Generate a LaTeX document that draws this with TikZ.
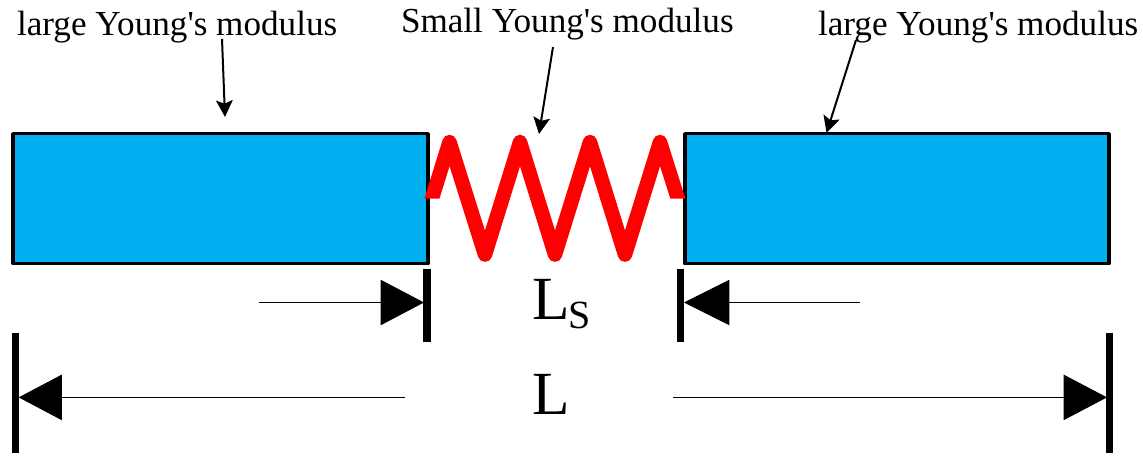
\documentclass[tikz,border=0pt]{standalone}
\usepackage{fontspec}
\setmainfont{Liberation Serif}
\newfontfamily\labelfont{Liberation Serif}
\usetikzlibrary{arrows.meta}
\definecolor{blockblue}{RGB}{0,176,240}
\newcommand{\bigL}{\fontsize{46pt}{46pt}\selectfont}
\newcommand{\smallS}{\fontsize{30pt}{30pt}\selectfont}
\tikzset{
  x=0.75pt,y=-0.75pt,
  label text/.style={font=\labelfont\fontsize{26.35pt}{26.35pt}\selectfont,anchor=base west,inner sep=0pt,outer sep=0pt},
  dim text/.style={font=\bigL,anchor=base west,inner sep=0pt,outer sep=0pt},
  block/.style={draw=black,fill=blockblue,line width=2.7pt,line join=round,rectangle,inner sep=0pt,outer sep=0pt,anchor=north west},
  pointer/.style={line width=1.5pt,-{Stealth[length=12.5pt,width=12.5pt,inset=2.5pt]}},
  dim line/.style={line width=0.75pt,-{Triangle[length=#1,width=34pt]}},
  dim line/.default=32.5pt,
  limit/.style={line width=5.6pt},
  spring/.style={draw=red,line width=10.8pt,line join=round}
}
\begin{document}
\begin{tikzpicture}
\useasboundingbox (0,0) rectangle (1143,470);
% blocks
\node[block,minimum width=311.25pt,minimum height=97.3pt] (leftblock) at (13,133.7) {};
\node[block,minimum width=318.2pt,minimum height=97.3pt] (rightblock) at (684.7,133.7) {};
% spring
\begin{scope}
\clip (420,120) -- (690,120) -- (690,198.7) -- (660,198.7) -- (660,270) -- (450,270) -- (450,198.7) -- (420,198.7) -- cycle;
\draw[spring] (420,237) -- (449.5,142) -- (485,254.7) -- (520,142) -- (555,254.7) -- (590,142) -- (625,254.7) -- (660,142) -- (690,237);
\end{scope}
% labels
\node[label text] (lab1) at (17,36) {large Young's modulus};
\node[label text] (lab2) at (401,33) {Small Young's modulus};
\node[label text] (lab3) at (818,36) {large Young's modulus};
\coordinate (p1s) at (222,39);
\coordinate (p1e) at (225,117);
\coordinate (p2s) at (553,47);
\coordinate (p2e) at (539,134);
\coordinate (p3s) at (856,40);
\coordinate (p3e) at (826.5,133);
\draw[pointer] (p1s) -- (p1e);
\draw[pointer] (p2s) -- (p2e);
\draw[pointer] (p3s) -- (p3e);
% Ls row
\coordinate (t1a) at (427,269);
\coordinate (t1b) at (427,342);
\coordinate (t2a) at (680.5,269);
\coordinate (t2b) at (680.5,342);
\draw[limit] (t1a) -- (t1b);
\draw[limit] (t2a) -- (t2b);
\coordinate (a1s) at (259,302.5);
\coordinate (a1e) at (424,302.5);
\coordinate (a2s) at (860,302.5);
\coordinate (a2e) at (684,302.5);
\draw[dim line=32.5pt] (a1s) -- (a1e);
\draw[dim line=34pt] (a2s) -- (a2e);
\node[dim text] (ls) at (532,320) {L\kern-0.75pt\raisebox{-6.7pt}{\smallS S}};
% L row
\coordinate (t3a) at (15.5,332.7);
\coordinate (t3b) at (15.5,453.3);
\coordinate (t4a) at (1109.5,332.7);
\coordinate (t4b) at (1109.5,453.3);
\draw[limit] (t3a) -- (t3b);
\draw[limit] (t4a) -- (t4b);
\coordinate (a3s) at (405,397.4);
\coordinate (a3e) at (18.7,397.4);
\coordinate (a4s) at (673,397.4);
\coordinate (a4e) at (1107,397.4);
\draw[dim line=32.3pt] (a3s) -- (a3e);
\draw[dim line=32.5pt] (a4s) -- (a4e);
\node[dim text] (ll) at (532,415) {L};
\end{tikzpicture}
\end{document}
